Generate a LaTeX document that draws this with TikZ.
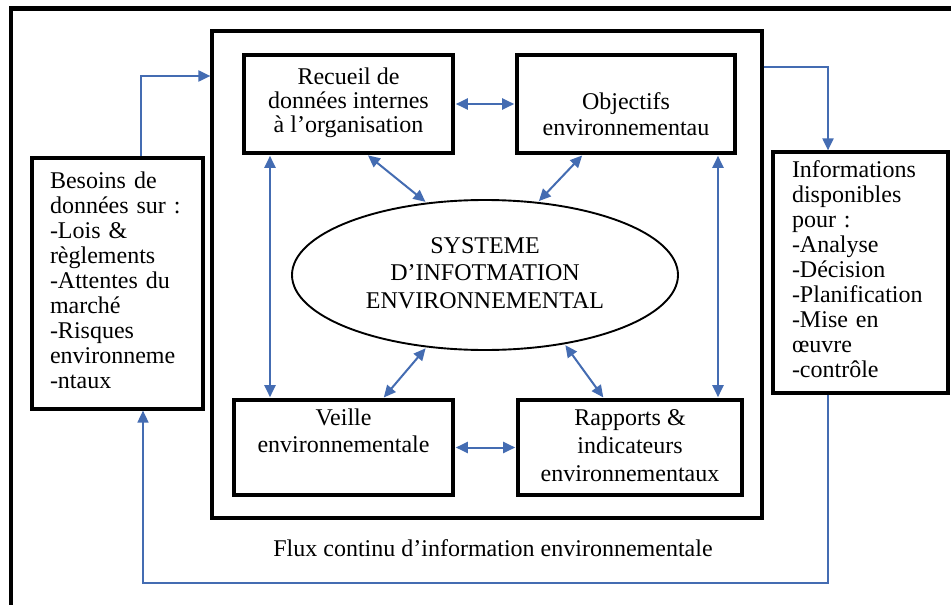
\documentclass[tikz,border=0pt]{standalone}
\usepackage{fontspec}
\setmainfont{Liberation Serif}
\usetikzlibrary{arrows.meta,shapes.geometric}
\definecolor{flowblue}{RGB}{68,108,178}
\begin{document}
\begin{tikzpicture}[x=1pt,y=-1pt,
  >={Triangle[length=12pt,width=11pt]},
  box/.style={draw=black,line width=3.2pt,rectangle,inner sep=0pt,align=center},
  sidebox/.style={draw=black,line width=3.2pt,rectangle,inner ysep=0pt,align=left,
    font=\fontsize{24}{25}\selectfont},
  conn/.style={draw=flowblue,line width=2pt},
  dbl/.style={conn,<->,shorten >=1.2pt,shorten <=1.2pt},
  flow/.style={conn,->},
  ret/.style={draw=flowblue,line width=1.7pt,->}
]
\useasboundingbox[fill=white] (0,0) rectangle (951,605);

% outer frame (partially visible)
\draw[line width=4.2pt,line join=miter] (11,625) -- (11,8.5) -- (975,8.5);

% big inner box
\node[box,minimum width=550pt,minimum height=487pt] (inner) at (487,274.5) {};

% four boxes
\node[box,minimum width=209pt,minimum height=98pt,font=\fontsize{24}{24}\selectfont]
  (recueil) at (348.5,104) {\strut Recueil de\\\strut données internes\\\strut à l’organisation};
\node[box,minimum width=218pt,minimum height=98pt,font=\fontsize{24}{26}\selectfont]
  (objectifs) at (626,104) {\strut\\\strut Objectifs\\\strut environnementau};
\node[box,minimum width=219pt,minimum height=95pt,font=\fontsize{24}{27}\selectfont]
  (veille) at (343.5,447.5) {\strut Veille\\\strut environnementale\\\strut};
\node[box,minimum width=224pt,minimum height=95pt,font=\fontsize{24}{28}\selectfont]
  (rapports) at (630,447.5) {\strut Rapports \&\\\strut indicateurs\\\strut environnementaux};

% central ellipse
\node[draw=black,line width=1.9pt,ellipse,inner sep=0pt,minimum width=386pt,minimum height=150pt,
  align=center,font=\fontsize{24}{27.5}\selectfont]
  (sys) at (485,275) {\strut SYSTEME\\\strut D’INFOTMATION\\\strut ENVIRONNEMENTAL};

% side boxes
\node[sidebox,text width=135pt,inner xsep=18pt,minimum height=251pt] (besoins) at (117.5,283.5)
  {\strut Besoins de\\\strut données sur :\\\strut -Lois \&\\\strut règlements\\\strut -Attentes du\\\strut marché\\\strut -Risques\\\strut environneme\\\strut -ntaux};
\node[sidebox,text width=137pt,inner xsep=19pt,minimum height=241pt] (info) at (860.5,272.5)
  {\strut Informations\\\strut disponibles\\\strut pour :\\\strut -Analyse\\\strut -Décision\\\strut -Planification\\\strut -Mise en\\\strut œuvre\\\strut -contrôle};

% caption text
\node[font=\fontsize{24}{25}\selectfont,inner sep=0pt] (flux) at (493,548) {Flux continu d’information environnementale};

% helper coordinates
\coordinate (vl) at (270,0);
\coordinate (vr) at (718,0);
\coordinate (d1) at (367,0);
\coordinate (d2) at (583,0);
\coordinate (d3) at (383,0);
\coordinate (d4) at (604,0);
\coordinate (ta) at (141,76);
\coordinate (tb) at (828,67);
\coordinate (bl) at (143,583);
\coordinate (br) at (828,583);

% inner connectors
\draw[dbl] (recueil.east) -- (objectifs.west);
\draw[dbl] (veille.east) -- (rapports.west);
\draw[dbl] (recueil.south -| vl) -- (veille.north -| vl);
\draw[dbl] (objectifs.south -| vr) -- (rapports.north -| vr);
\draw[dbl] (recueil.south -| d1) -- (sys.129);
\draw[dbl] (objectifs.south -| d2) -- (sys.54);
\draw[dbl] (veille.north -| d3) -- (sys.-129);
\draw[dbl] (rapports.north -| d4) -- (sys.-41);

% outer flows
\draw[flow] (besoins.north -| ta) -- (ta) -- (inner.west |- ta);
\draw[flow] (inner.east |- tb) -- (tb) -- (info.north -| tb);
\draw[ret] (info.south -| br) -- (br) -- (bl) -- (besoins.south -| bl);
\end{tikzpicture}
\end{document}
